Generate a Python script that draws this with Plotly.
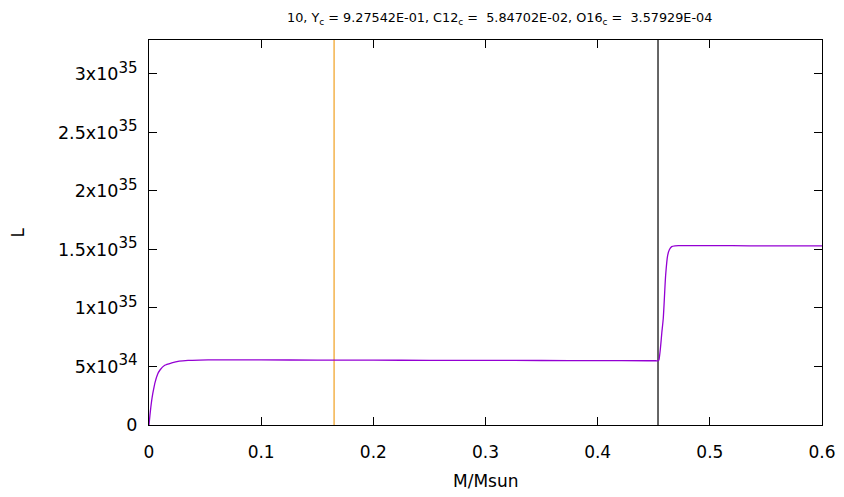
import plotly.graph_objects as go

# luminance profile L(M)
mass = [0.0, 0.0008, 0.0016, 0.0024, 0.0032, 0.0040, 0.0053, 0.0075, 0.0098, 0.0140, 0.0202, 0.0270, 0.0348,
        0.045, 0.06, 0.08, 0.10, 0.15, 0.20, 0.25, 0.30, 0.35, 0.40, 0.445, 0.452, 0.4540,
        0.4547, 0.4560, 0.4572, 0.4585, 0.4606, 0.4624, 0.4640, 0.4660, 0.4690, 0.4720,
        0.48, 0.50, 0.52, 0.55, 0.58, 0.60]
lum = [0.0, 0.08e35, 0.15e35, 0.21e35, 0.26e35, 0.30e35, 0.36e35, 0.43e35, 0.47e35, 0.51e35, 0.53e35, 0.545e35, 0.552e35,
       0.555e35, 0.556e35, 0.556e35, 0.556e35, 0.555e35, 0.554e35, 0.553e35, 0.552e35, 0.551e35, 0.550e35, 0.549e35, 0.549e35, 0.549e35,
       0.56e35, 0.66e35, 0.79e35, 0.912e35, 1.28e35, 1.45e35, 1.50e35, 1.524e35, 1.530e35, 1.532e35,
       1.533e35, 1.533e35, 1.532e35, 1.531e35, 1.531e35, 1.531e35]

orange_x = 0.165
black_x = 0.4538

y_max = 3.29e35
y_ticks = [0, 5e34, 1e35, 1.5e35, 2e35, 2.5e35, 3e35]
y_tick_mantissa = ["0", "5", "1", "1.5", "2", "2.5", "3"]
y_tick_exponent = ["", "34", "35", "35", "35", "35", "35"]
x_ticks = [0, 0.1, 0.2, 0.3, 0.4, 0.5, 0.6]
x_tick_text = ["0", "0.1", "0.2", "0.3", "0.4", "0.5", "0.6"]

y_tick_text = [m if not e else
               f"{m}x10<sup><span style='font-size:15px'>{e}</span></sup>"
               for m, e in zip(y_tick_mantissa, y_tick_exponent)]

title = ("10, Y<sub>c</sub> = 9.27542E-01, C12<sub>c</sub> =  5.84702E-02, "
         "O16<sub>c</sub> =  3.57929E-04")

fig = go.Figure()
fig.add_trace(go.Scatter(x=[orange_x, orange_x], y=[0, y_max], mode="lines",
                         line=dict(color="#F0A020", width=1.2), showlegend=False))
fig.add_trace(go.Scatter(x=[black_x, black_x], y=[0, y_max], mode="lines",
                         line=dict(color="black", width=1.2), showlegend=False))
fig.add_trace(go.Scatter(x=mass, y=lum, mode="lines", line_shape="spline",
                         line=dict(color="#9400D3", width=1.3, smoothing=0.6),
                         showlegend=False))

font = "DejaVu Sans, Verdana, sans-serif"
fig.update_layout(
    width=836, height=489,
    margin=dict(l=141, r=22, t=32, b=72, autoexpand=False),
    plot_bgcolor="white", paper_bgcolor="white",
    font=dict(family=font, size=17, color="black"),
    xaxis=dict(range=[0, 0.6], tickvals=x_ticks, ticktext=x_tick_text,
               showgrid=False, zeroline=False, showline=True, linecolor="black",
               linewidth=1, mirror="allticks", ticks="inside", ticklen=8,
               tickcolor="black", ticklabelstandoff=12),
    yaxis=dict(range=[0, y_max], tickvals=y_ticks, ticktext=y_tick_text,
               showgrid=False, zeroline=False, showline=True, linecolor="black",
               linewidth=1, mirror="allticks", ticks="inside", ticklen=8,
               tickcolor="black", ticklabelstandoff=7, tickfont=dict(size=17.5)),
    annotations=[
        dict(text=title, x=0.5215, y=1, xref="paper", yref="paper",
             xanchor="center", yanchor="middle", yshift=22, showarrow=False,
             font=dict(size=12.8)),
        dict(text="L", x=0, y=0.5, xref="paper", yref="paper", textangle=-90,
             xanchor="center", yanchor="middle", xshift=-132, showarrow=False,
             font=dict(size=17)),
        dict(text="M/Msun", x=0.5, y=0, xref="paper", yref="paper",
             xanchor="center", yanchor="middle", yshift=-56, showarrow=False,
             font=dict(size=17)),
    ],
)

fig.write_html("out.html")
